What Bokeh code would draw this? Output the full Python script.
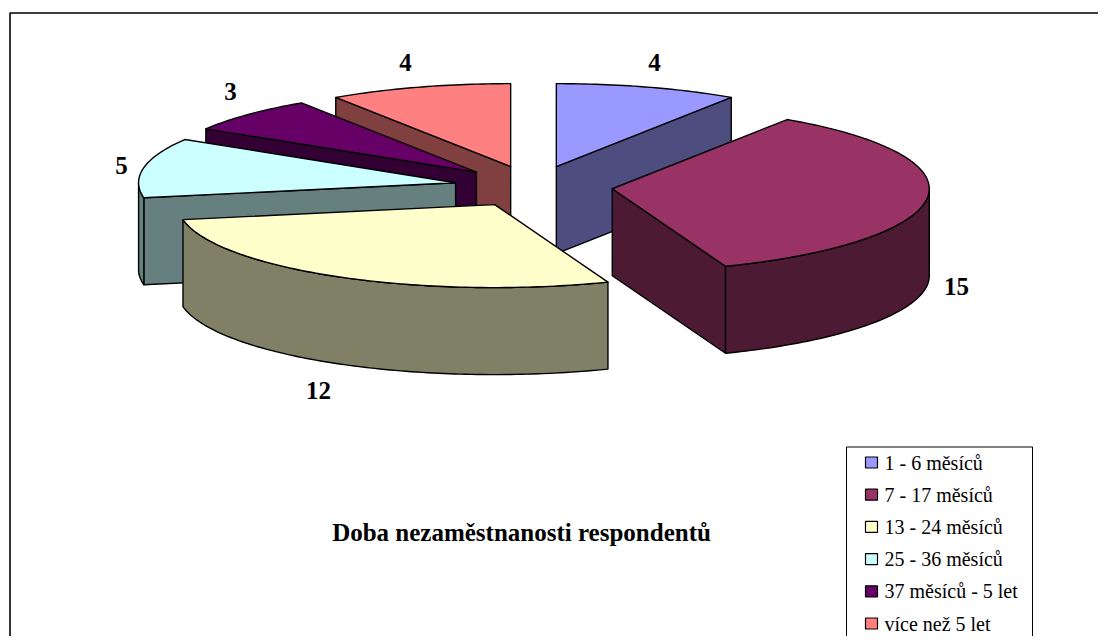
import math
from bokeh.plotting import figure
from bokeh.models import Range1d
from bokeh.core.properties import value
from bokeh.embed import file_html
from bokeh.resources import INLINE

# ---- data ----
categories = ["1 - 6 měsíců", "7 - 17 měsíců", "13  - 24 měsíců",
              "25 - 36 měsíců", "37 měsíců - 5 let", "více než 5 let"]
values = [4, 15, 12, 5, 3, 4]
title = "Doba nezaměstnanosti respondentů"

# ---- style ----
top_colors = ["#9999FF", "#993366", "#FFFFCC", "#CCFFFF", "#660066", "#FF8080"]
side_colors = ["#4D4D80", "#4D1A33", "#808066", "#668080", "#330033", "#804040"]
draw_order = [5, 0, 4, 3, 1, 2]
label_x = [654, 956, 318, 121, 230, 405]
label_y = [62, 286, 390, 165, 91, 62]
FONT = value("Liberation Serif")

# ---- geometry of the tilted, exploded pie (picture pixels) ----
CX, CY, RX, RY, DEPTH, EXPLODE = 533, 186, 317, 83, 87, 0.25

W, H = 1098, 636
p = figure(width=W, height=H, output_backend="svg", toolbar_location=None,
           x_range=Range1d(0, W), y_range=Range1d(H, 0),
           min_border=0, outline_line_color=None)
p.axis.visible = False
p.grid.visible = False
p.background_fill_color = "white"

# outer frame: only top and left edges are in view
p.line([W, 9.5, 9.5], [12.5, 12.5, H], line_color="black", line_width=1.6)


def pt(apex, deg, r=1.0, dz=0):
    a = math.radians(deg)
    return apex[0] + r * RX * math.sin(a), apex[1] - r * RY * math.cos(a) + dz


def arc(apex, d0, d1, dz=0):
    n = max(2, int(abs(d1 - d0)) + 1)
    return [pt(apex, d0 + (d1 - d0) * i / (n - 1), 1.0, dz) for i in range(n)]


total = sum(values)
starts, ends, acc = [], [], 0
for v in values:
    starts.append(acc / total * 360)
    acc += v
    ends.append(acc / total * 360)

LW = 1.4
for i in draw_order:
    s, e = starts[i], ends[i]
    mid = (s + e) / 2
    apex = pt((CX, CY), mid, EXPLODE)
    faces = []
    if math.sin(math.radians(s)) < -1e-6:
        faces.append(s)
    if math.sin(math.radians(e)) > 1e-6:
        faces.append(e)
    for ang in faces:
        q = pt(apex, ang)
        xs = [apex[0], q[0], q[0], apex[0]]
        ys = [apex[1], q[1], q[1] + DEPTH, apex[1] + DEPTH]
        p.patch(xs, ys, fill_color=side_colors[i], line_color="black", line_width=LW, line_join="round")
    w0, w1 = max(s, 90), min(e, 270)
    if w1 > w0:
        up = arc(apex, w0, w1)
        dn = arc(apex, w0, w1, DEPTH)[::-1]
        pts = up + dn
        p.patch([a for a, _ in pts], [b for _, b in pts], fill_color=side_colors[i],
                line_color="black", line_width=LW, line_join="round")
    pts = [apex] + arc(apex, s, e)
    p.patch([a for a, _ in pts], [b for _, b in pts], fill_color=top_colors[i],
            line_color="black", line_width=LW, line_join="round")

# value labels
p.text(label_x, label_y, text=[str(v) for v in values], text_font=FONT, text_font_style="bold",
       text_font_size="25px", text_color="black", text_align="center", text_baseline="middle")

# chart title
p.text([521], [532], text=[title], text_font=FONT, text_font_style="bold", text_font_size="25px",
       text_color="black", text_align="center", text_baseline="middle")

# legend box: runs off the bottom of the picture
p.line([846, 846, 1032, 1032], [H, 446.5, 446.5, H], line_color="black", line_width=1.0)
leg_y = [462 + k * 32.2 for k in range(len(categories))]
p.rect([871] * len(categories), leg_y, width=12, height=11, fill_color=top_colors,
       line_color="black", line_width=1.2)
p.text([884] * len(categories), leg_y, text=categories, text_font=FONT, text_font_size="20px",
       text_color="black", text_align="left", text_baseline="middle")

open("out.html", "w").write(file_html(p, INLINE))
